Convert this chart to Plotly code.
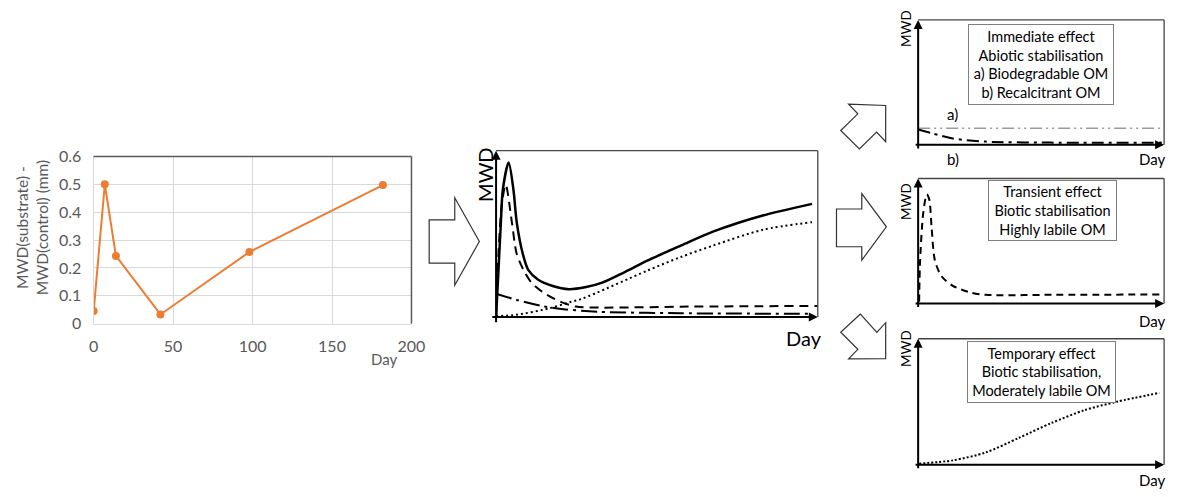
import plotly.graph_objects as go

# page body has an 8px default margin; figure sized so it fits the 1185x497 window
OFF = 8
W, H = 1185 - OFF, 497 - OFF
FONT = "Lato"

# ---------------- data: measured chart ----------------
days = [0, 7, 14, 42, 98, 182]
mwd_diff = [0.045, 0.5, 0.243, 0.033, 0.257, 0.497]
x_ticks = [0, 50, 100, 150, 200]
y_ticks = [0, 0.1, 0.2, 0.3, 0.4, 0.5, 0.6]

# ---------------- data: conceptual curves (normalised 0..1) ----------------
total_x = [0, 0.008, 0.015, 0.021, 0.039, 0.054, 0.064, 0.083, 0.1, 0.13, 0.176, 0.226, 0.28, 0.33, 0.4, 0.472, 0.576, 0.676, 0.829, 0.982]
total_y = [0, 0.3, 0.572, 0.765, 0.929, 0.765, 0.572, 0.38, 0.283, 0.225, 0.186, 0.167, 0.18, 0.206, 0.27, 0.34, 0.43, 0.514, 0.61, 0.68]

labile_x = [0, 0.008, 0.018, 0.03, 0.049, 0.064, 0.085, 0.11, 0.146, 0.197, 0.248, 0.319, 0.6, 1.0]
labile_y = [0, 0.4, 0.68, 0.794, 0.572, 0.38, 0.283, 0.206, 0.148, 0.094, 0.062, 0.056, 0.062, 0.066]

moderate_x = [0, 0.064, 0.166, 0.227, 0.268, 0.472, 0.574, 0.676, 0.829, 0.982]
moderate_y = [0.005, 0.013, 0.052, 0.087, 0.11, 0.28, 0.36, 0.43, 0.524, 0.57]

abiotic_x = [0, 0.064, 0.146, 0.217, 0.319, 0.574, 0.982]
abiotic_y = [0.14, 0.102, 0.064, 0.045, 0.031, 0.022, 0.019]

# small panel: immediate effect
biodeg_x = [0, 1.0]
biodeg_y = [0.133, 0.133]
recalc_x = [0, 0.061, 0.141, 0.275, 0.54, 0.995]
recalc_y = [0.123, 0.09, 0.051, 0.026, 0.018, 0.018]

# small panel: transient effect
trans_x = [0.004, 0.008, 0.021, 0.035, 0.045, 0.055, 0.068, 0.095, 0.141, 0.208, 0.275, 0.54, 1.0]
trans_y = [0.013, 0.346, 0.73, 0.872, 0.833, 0.60, 0.346, 0.218, 0.141, 0.09, 0.069, 0.069, 0.072]

# small panel: temporary effect
temp_x = [0.004, 0.141, 0.275, 0.408, 0.541, 0.675, 0.808, 0.981]
temp_y = [0.008, 0.034, 0.097, 0.211, 0.33, 0.432, 0.5, 0.57]

box_texts = [
    "Immediate effect<br>Abiotic stabilisation<br>a) Biodegradable OM<br>b) Recalcitrant OM",
    "Transient effect<br>Biotic stabilisation<br>Highly labile OM",
    "Temporary effect<br>Biotic stabilisation,<br>Moderately labile OM",
]


def fx(px):
    return (px - OFF) / W


def fy(py):
    return 1 - (py - OFF) / H


fig = go.Figure()

# measured line
fig.add_trace(go.Scatter(x=days, y=mwd_diff, mode="lines+markers",
                         line=dict(color="#ED7D31", width=2),
                         marker=dict(color="#ED7D31", size=8),
                         xaxis="x", yaxis="y", showlegend=False))

# middle conceptual chart
fig.add_trace(go.Scatter(x=total_x, y=total_y, mode="lines", line=dict(color="black", width=2.5, shape="spline", smoothing=0.8),
                         xaxis="x2", yaxis="y2", showlegend=False))
fig.add_trace(go.Scatter(x=labile_x, y=labile_y, mode="lines", line=dict(color="black", width=2, dash="9px,6px", shape="spline", smoothing=0.8),
                         xaxis="x2", yaxis="y2", showlegend=False))
fig.add_trace(go.Scatter(x=moderate_x, y=moderate_y, mode="lines", line=dict(color="black", width=2, dash="2px,3px", shape="spline", smoothing=0.8),
                         xaxis="x2", yaxis="y2", showlegend=False))
fig.add_trace(go.Scatter(x=abiotic_x, y=abiotic_y, mode="lines", line=dict(color="black", width=2, dash="16px,5px,3px,5px", shape="spline", smoothing=0.8),
                         xaxis="x2", yaxis="y2", showlegend=False))

# small panels
fig.add_trace(go.Scatter(x=biodeg_x, y=biodeg_y, mode="lines", line=dict(color="#9a9a9a", width=1.5, dash="12px,4px,2px,4px,2px,4px"),
                         xaxis="x3", yaxis="y3", showlegend=False))
fig.add_trace(go.Scatter(x=recalc_x, y=recalc_y, mode="lines", line=dict(color="black", width=2, dash="12px,5px,3px,5px", shape="spline", smoothing=0.8),
                         xaxis="x3", yaxis="y3", showlegend=False))
fig.add_trace(go.Scatter(x=trans_x, y=trans_y, mode="lines", line=dict(color="black", width=2, dash="7px,5px", shape="spline", smoothing=0.8),
                         xaxis="x4", yaxis="y4", showlegend=False))
fig.add_trace(go.Scatter(x=temp_x, y=temp_y, mode="lines", line=dict(color="black", width=2, dash="2px,2px", shape="spline", smoothing=0.8),
                         xaxis="x5", yaxis="y5", showlegend=False))

tickfont = dict(family=FONT, size=16, color="#595959")

layout = dict(
    width=W, height=H, margin=dict(l=0, r=0, t=0, b=0),
    paper_bgcolor="white", plot_bgcolor="white",
    font=dict(family=FONT, color="black"),
    xaxis=dict(domain=[fx(90), fx(413)], range=[0, 200], tickvals=x_ticks, showgrid=True,
               gridcolor="#d9d9d9", showline=True, linecolor="#d9d9d9", linewidth=1.2,
               zeroline=False, tickfont=tickfont, ticks="", ticklabelstandoff=8, anchor="y"),
    yaxis=dict(domain=[fy(326), fy(152)], range=[0, 0.6], tickvals=y_ticks, showgrid=True,
               gridcolor="#d9d9d9", showline=True, linecolor="#d9d9d9", linewidth=1.2,
               zeroline=False, tickfont=tickfont, ticks="", ticklabelstandoff=8, anchor="x"),
)

panels = {
    2: (499, 826, 146, 319),
    3: (928, 1178, 10, 140),
    4: (928, 1178, 175, 305),
    5: (928, 1178, 341.7, 472.7),
}
for i, (l, r, t, b) in panels.items():
    layout[f"xaxis{i}"] = dict(domain=[fx(l), fx(r)], range=[0, 1], showgrid=False, zeroline=False,
                               showticklabels=False, ticks="", showline=False, anchor=f"y{i}")
    layout[f"yaxis{i}"] = dict(domain=[fy(b), fy(t)], range=[0, 1], showgrid=False, zeroline=False,
                               showticklabels=False, ticks="", showline=False, anchor=f"x{i}")

fig.update_layout(**layout)

shapes = []
annotations = []

# left chart: dark top/right border
shapes.append(dict(type="line", xref="x domain", yref="y domain", x0=0, x1=1, y0=1, y1=1,
                   line=dict(color="#595959", width=1.5)))
shapes.append(dict(type="line", xref="x domain", yref="y domain", x0=1, x1=1, y0=0, y1=1,
                   line=dict(color="#595959", width=1.5)))

# panels: box + axis arrows
for i in panels:
    xr, yr = f"x{i} domain", f"y{i} domain"
    shapes.append(dict(type="line", xref=xr, yref=yr, x0=0, x1=1, y0=1, y1=1, line=dict(color="#444", width=1.3)))
    shapes.append(dict(type="line", xref=xr, yref=yr, x0=1, x1=1, y0=0, y1=1, line=dict(color="#444", width=1.3)))
    annotations.append(dict(xref=xr, yref=yr, x=0, y=1.0, ax=0, ay=(panels[i][3] - panels[i][2]),
                            axref="pixel", ayref="pixel", showarrow=True, arrowhead=2, arrowsize=0.9,
                            arrowwidth=2, arrowcolor="black", text="", standoff=0))
    annotations.append(dict(xref=xr, yref=yr, x=1.0, y=0, ax=-(panels[i][1] - panels[i][0]), ay=0,
                            axref="pixel", ayref="pixel", showarrow=True, arrowhead=2, arrowsize=0.9,
                            arrowwidth=2, arrowcolor="black", text="", standoff=0))


def poly(pts):
    s = "M " + " L ".join(f"{fx(x):.5f},{fy(y):.5f}" for x, y in pts) + " Z"
    return dict(type="path", xref="paper", yref="paper", path=s,
                line=dict(color="#333", width=1.2), fillcolor="white")


shapes.append(poly([(431, 218), (457, 218), (457, 195), (482, 240.5), (457, 286), (457, 263), (431, 263)]))
shapes.append(poly([(845, 206.7), (870.7, 206.7), (870.7, 190.7), (895.7, 225.3), (870.7, 260), (870.7, 246), (845, 246)]))
shapes.append(poly([(857.3, 97.7), (895, 99), (895, 136.7), (885.7, 126.7), (868.3, 144.3), (849.3, 125), (866.7, 107.7)]))
shapes.append(poly([(869.3, 316), (849.3, 335), (866.7, 352.7), (857.3, 362.7), (895, 362.3), (895, 325), (886, 335)]))


def ann(text, x, y, size=15, color="black", angle=0, **kw):
    d = dict(text=text, x=fx(x), y=fy(y), xref="paper", yref="paper", showarrow=False,
             font=dict(family=FONT, size=size, color=color), textangle=angle,
             xanchor="center", yanchor="middle")
    d.update(kw)
    annotations.append(d)


# left chart labels
ann("MWD(substrate) -<br>MWD(control) (mm)", 27, 226, size=15.5, color="#595959", angle=-90)
ann("Day", 385, 363, size=15, color="#595959")

# middle chart labels
ann("MWD", 487, 171, size=20, angle=-90)
ann("Day", 812, 341, size=20)

# small panels labels
for cy in (19, 199, 352):
    ann("MWD", 915, cy, size=13.5, angle=-90)
for cy in (155, 323, 489):
    ann("Day", 1166, cy, size=15)
ann("a)", 963, 108, size=15)
ann("b)", 963, 155, size=15)

# text boxes
box_geo = [(1053, 56.5, 144, 79), (1065, 208.5, 127, 59), (1053.5, 376, 147, 60)]
for txt, (cx, cy, w, h) in zip(box_texts, box_geo):
    ann(txt, cx, cy, size=14.5, width=w, height=h, bordercolor="#7f7f7f", borderwidth=1,
        borderpad=0, bgcolor="white", align="center", valign="middle")

fig.update_layout(shapes=shapes, annotations=annotations)
fig.write_html("out.html")
